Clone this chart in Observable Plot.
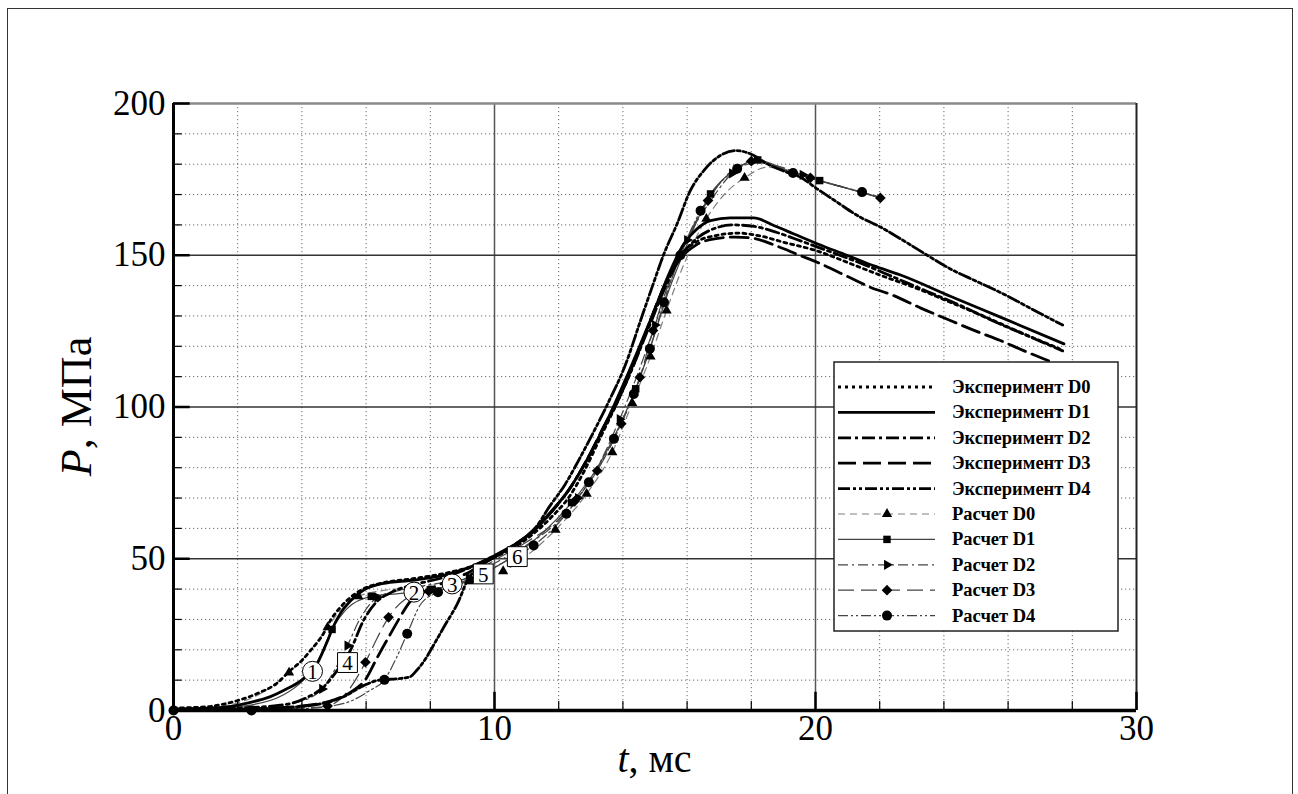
<!DOCTYPE html>
<html><head><meta charset="utf-8">
<script src="https://cdn.jsdelivr.net/npm/d3@7"></script>
<script src="https://cdn.jsdelivr.net/npm/@observablehq/plot@0.6"></script>
<style>
html,body{margin:0;padding:0;background:#fff;}
#wrap{position:relative;width:1298px;height:794px;overflow:hidden;background:#fff;}
#chart{position:absolute;left:0;top:0;}
#frame{position:absolute;left:7px;top:8px;width:1286px;height:810px;border:1.5px solid #333;box-sizing:border-box;pointer-events:none;}
</style></head><body>
<div id="wrap"><div id="chart"></div><div id="frame"></div></div>
<script>
// ---- tick values ----
const xMajor = [0, 10, 20, 30];
const xMinor = [2, 4, 6, 8, 12, 14, 16, 18, 22, 24, 26, 28];
const yMajor = [0, 50, 100, 150, 200];
const yMinor = [10, 20, 30, 40, 60, 70, 80, 90, 110, 120, 130, 140, 160, 170, 180, 190];

// ---- experiment series [t (ms), P (MPa)] ----
const expD0 = [[0,0.8],[1,1.2],[2,3.3],[2.7,6],[3.2,8.8],[3.64,13.2],[4.0,16.5],[4.27,19.8],[4.67,25.3],[4.89,29.7],[5.2,34],[5.6,38],[6.0,40.5],[6.5,42],[7.5,43.5],[8.5,45.3],[9.3,47.5],[10,50.5],[11,56.5],[11.8,64],[12.3,70],[12.8,79],[13.3,90],[13.8,101],[14.3,113],[14.8,127],[15.3,140],[15.8,150],[16.3,154.5],[16.9,156.5],[17.6,157.3],[18.3,156.3],[19,154.3],[20,151.6],[21.1,147.2],[22,143.5],[23.2,138.9],[24.2,134.5],[25.2,130.1],[26.4,124.5],[27.6,119.2]];
const expD1 = [[0,0.5],[1.5,1],[2.4,2.7],[3.0,4.5],[3.43,6.6],[4.05,10.5],[4.48,15.5],[4.8,23],[4.95,27],[5.2,32],[5.5,36],[5.9,39.5],[6.5,41.8],[7.5,43],[8.5,44.8],[9.3,47.5],[10,51],[11,57.5],[11.8,66],[12.3,72.5],[12.8,81],[13.2,89],[13.7,100],[14.1,109.5],[14.5,119.5],[14.95,131],[15.4,143],[15.9,153.8],[16.31,158.7],[16.73,161.4],[17.35,162.3],[18.08,162.3],[18.7,159.8],[19.33,157],[20.05,153.8],[20.98,150],[21.82,146.5],[22.65,143.5],[24.2,136.5],[25.76,129.6],[27.74,120.8]];
const expD2 = [[0,0.3],[2,0.8],[3.5,2],[4.2,4.5],[4.67,7.7],[5.1,13.2],[5.51,19.8],[5.92,29.7],[6.3,35.5],[6.8,39],[7.5,41.5],[8.3,43.5],[9.1,46.5],[9.8,50],[10.6,54.5],[11.3,60],[11.9,67],[12.4,74],[12.9,83],[13.4,93],[13.8,101],[14.3,113],[14.8,126],[15.3,139],[15.8,149.5],[16.3,155.5],[16.9,159],[17.4,160],[18.1,159.5],[18.8,157.5],[19.6,154.5],[20.5,151],[21.5,147],[22.5,142.5],[23.5,138],[24.5,133.5],[25.5,128.5],[26.6,123.5],[27.7,118.5]];
const expD3 = [[0,0.3],[2.5,0.5],[4,1.5],[5,3.5],[5.51,6],[6.0,10.5],[6.35,17.5],[6.8,26],[7.0,29.7],[7.38,36],[7.9,39.5],[8.5,42.5],[9.2,45.5],[9.8,49.5],[10.5,53.5],[11.2,59],[11.9,67],[12.4,74],[12.9,83],[13.4,93.5],[13.8,101.5],[14.3,113.5],[14.8,127],[15.3,140],[15.8,149],[16.3,153.5],[16.9,155.5],[17.5,156],[18.1,155.5],[18.8,153],[19.5,150],[20.05,147.7],[21.0,143],[21.7,139.5],[22.44,136.7],[23.3,132.5],[24.2,128.5],[25.0,125],[25.76,121.9],[26.5,118.5],[27.1,115.9],[27.7,113.5]];
const expD4 = [[0,0.3],[2,0.5],[3.5,1],[4.5,2],[5.3,4.5],[5.92,8.2],[6.4,10],[7.0,10.5],[7.35,11],[7.6,13.5],[7.85,17],[8.1,21.5],[8.45,28],[8.89,36.2],[9.15,42.8],[9.5,47],[10.0,50.5],[10.7,55],[11.3,60.5],[11.7,67],[12.2,74.5],[12.6,82],[13.0,90],[13.5,100.5],[14.1,114.5],[14.55,128.5],[14.91,139.5],[15.28,150.5],[15.69,160.4],[16.1,171.3],[16.52,177.9],[17.04,182.9],[17.51,184.5],[18.08,182.9],[18.5,180.1],[19.1,177.4],[19.53,175.7],[20.05,171.9],[20.67,167.5],[21.4,162.5],[22.02,159.3],[22.65,155.4],[23.48,150],[24.2,145.5],[25.0,141.5],[25.9,137],[26.7,132.5],[27.7,127]];

// ---- calculation series [t, P, marker?] ----
const calcD0 = [[0,0],[1,0.8],[2.0,2.5],[2.7,5.5],[3.2,9],[3.6,12.5,1],[4.2,19],[4.8,27.4,1],[5.2,33],[5.76,37.6,1],[6.5,39.5],[7.5,40.5],[8.5,42],[9.4,43.8],[10.27,45.9,1],[11.0,51],[11.9,59.5,1],[12.87,71.4,1],[13.67,85.1,1],[14.29,101.3,1],[14.86,116.6,1],[15.36,131.8,1],[15.9,147],[16.6,162,1],[17.2,170.5],[17.79,175.5,1],[18.5,179],[19.3,177.3],[20.3,174.2],[21.3,171.2],[22.0,169.3]];
const calcD1 = [[0,0],[1.2,0.8],[2.4,1.8],[3.4,5],[4.0,9.5],[4.5,16.5],[4.94,26.7,1],[5.4,33.5],[6.16,37.6,1],[7.0,38.5],[8.0,39.8,1],[9.23,42.8,1],[10.0,47],[10.8,52.5],[11.6,59.5],[12.4,68.5,1],[13.2,80],[13.9,94],[14.4,106,1],[14.9,121],[15.4,137.5],[15.9,151],[16.73,170.2,1],[17.4,177.5],[18.2,181.4,1],[19.0,178.5],[20.13,174.6,1],[21.0,172],[22.0,169]];
const calcD2 = [[0,0],[2.5,0.5],[3.8,2.5],[4.63,7.1,1],[5.0,13],[5.42,21.4,1],[5.8,30],[6.35,37.3,1],[7,39.5],[8,41.5],[9.2,43.8,1],[10,48.5],[11,54.5],[12,62.5],[12.6,70,1],[13.3,82],[13.9,96,1],[14.5,112],[15.0,127,1],[15.5,142],[16.0,155,1],[16.8,169],[17.4,177,1],[18.1,181],[18.8,179.5],[19.6,176.5,1],[20.5,173.5],[21.5,170.5],[22.0,169]];
const calcD3 = [[0,0],[2.5,0.3],[4.0,0.8],[4.8,1.5,1],[5.4,6],[5.98,15.9,1],[6.35,24],[6.7,30.7,1],[7.2,36.5],[7.95,39.3,1],[9,43],[10,49.5],[11,55.5],[12,63],[12.5,69,1],[13.2,79,1],[13.95,94.5,1],[14.53,109.8,1],[14.94,125.2,1],[15.4,140],[15.9,153],[16.65,168,1],[17.3,177],[18.0,181,1],[18.8,179],[19.84,175.5,1],[21,172],[22.02,168.9,1]];
const calcD4 = [[0,0,1],[1.2,0.2],[2.43,0,1],[3.8,0.5],[4.8,1.3],[5.5,3],[6.1,6.5],[6.57,10.1,1],[6.95,17.5],[7.28,25.3,1],[7.7,35],[8.24,39,1],[8.8,41.5],[9.6,45],[10.4,49.5],[11.22,54.4,1],[12.24,64.8,1],[12.94,75.2,1],[13.72,89.5,1],[14.34,104.3,1],[14.84,119.2,1],[15.28,134.5,1],[15.79,150,1],[16.42,164.7,1],[17.0,173.5],[17.56,178.5,1],[18.2,180.5],[19.3,177.1,1],[20.3,174],[21.45,170.8,1],[22.0,169]];

// ---- numbered annotations ----
const circleNotes = [{t:4.33, p:12.9, n:"1"}, {t:7.49, p:39.0, n:"2"}, {t:8.68, p:41.7, n:"3"}];
const boxNotes = [{t:5.42, p:15.8, n:"4"}, {t:9.65, p:45.0, n:"5"}, {t:10.71, p:50.7, n:"6"}];

// ---- styles ----
const triRight = {draw(ctx, size) {
  const h = Math.sqrt(size / (Math.sqrt(3) * 3));
  ctx.moveTo(2 * h, 0); ctx.lineTo(-h, -Math.sqrt(3) * h); ctx.lineTo(-h, Math.sqrt(3) * h); ctx.closePath();
}};
const expSeries = [
  {label: "Эксперимент D0", data: expD0, dash: "3,4"},
  {label: "Эксперимент D1", data: expD1, dash: null},
  {label: "Эксперимент D2", data: expD2, dash: "13,4,3,4"},
  {label: "Эксперимент D3", data: expD3, dash: "18,7"},
  {label: "Эксперимент D4", data: expD4, dash: "12,3,3,3,3,3"}
];
const calcSeries = [
  {label: "Расчет D0", data: calcD0, dash: "7,5", stroke: "#808080", symbol: "triangle", d3sym: d3.symbolTriangle, r: 3.8},
  {label: "Расчет D1", data: calcD1, dash: null, stroke: "#444", symbol: "square", d3sym: d3.symbolSquare, r: 4.2},
  {label: "Расчет D2", data: calcD2, dash: "10,4,2,4", stroke: "#444", symbol: triRight, d3sym: triRight, r: 3.8},
  {label: "Расчет D3", data: calcD3, dash: "16,7", stroke: "#444", symbol: "diamond2", d3sym: d3.symbolDiamond2, r: 4.8},
  {label: "Расчет D4", data: calcD4, dash: "10,3,2,3,2,3", stroke: "#444", symbol: "circle", d3sym: d3.symbolCircle, r: 5}
];
const rows = arr => arr.map(([t, p, m]) => ({t, p, m: m === 1}));
const serif = "'Liberation Serif', 'Times New Roman', serif";

const marks = [
  Plot.ruleX(xMinor, {stroke: "#6a6a6a", strokeWidth: 1, strokeDasharray: "1.2,2.8"}),
  Plot.ruleY(yMinor, {stroke: "#6a6a6a", strokeWidth: 1, strokeDasharray: "1.2,2.8"}),
  Plot.ruleX([10, 20], {stroke: "#555", strokeWidth: 1.5}),
  Plot.ruleY([50, 100, 150], {stroke: "#333", strokeWidth: 1.3}),
  Plot.ruleY([200], {stroke: "#8a8a8a", strokeWidth: 2.5}),
  Plot.ruleX([30], {stroke: "#222", strokeWidth: 2})
];
for (const s of calcSeries) {
  marks.push(Plot.line(rows(s.data), {x: "t", y: "p", stroke: s.stroke, strokeWidth: 1.2, strokeDasharray: s.dash, curve: "monotone-x"}));
}
for (const s of expSeries) {
  marks.push(Plot.line(rows(s.data), {x: "t", y: "p", stroke: "black", strokeWidth: 2.8, strokeDasharray: s.dash, curve: "monotone-x"}));
}
for (const s of calcSeries) {
  marks.push(Plot.dot(rows(s.data).filter(d => d.m), {x: "t", y: "p", symbol: s.symbol, r: s.r, fill: "black", stroke: "none"}));
}
// axes: lines and inward ticks
marks.push(
  Plot.ruleX([0], {stroke: "black", strokeWidth: 3}),
  Plot.ruleY([0], {stroke: "black", strokeWidth: 3.5}),
  Plot.ruleY(yMajor, {x1: 0, x2: 0.52, stroke: "black", strokeWidth: 2.5}),
  Plot.ruleY(yMinor, {x1: 0, x2: 0.27, stroke: "black", strokeWidth: 1.2}),
  Plot.ruleX(xMajor.slice(1), {y1: 0, y2: 6, stroke: "black", strokeWidth: 2.5}),
  Plot.ruleX(xMinor, {y1: 0, y2: 3, stroke: "black", strokeWidth: 1.2})
);
// numbered notes
marks.push(
  Plot.dot(circleNotes, {x: "t", y: "p", r: 10, fill: "white", stroke: "black", strokeWidth: 1}),
  Plot.dot(boxNotes, {x: "t", y: "p", symbol: "square", r: 11.2, fill: "white", stroke: "black", strokeWidth: 1}),
  Plot.text(circleNotes, {x: "t", y: "p", text: "n", fontSize: 21, fontFamily: serif, fill: "black", dy: 1}),
  Plot.text(boxNotes, {x: "t", y: "p", text: "n", fontSize: 21, fontFamily: serif, fill: "black", dy: 1})
);

const chart = Plot.plot({
  width: 1298, height: 794,
  marginLeft: 173, marginRight: 162, marginTop: 103, marginBottom: 84,
  style: {fontFamily: serif, fontSize: "35px", background: "transparent", color: "black"},
  x: {domain: [0, 30], ticks: xMajor, tickSize: 0, tickPadding: 5, label: null, tickFormat: d => String(d)},
  y: {domain: [0, 200], ticks: yMajor, tickSize: 0, tickPadding: 8, label: null, tickFormat: d => String(d)},
  marks
});
document.getElementById("chart").appendChild(chart);

const svg = d3.select(chart);
const sx = chart.scale("x"), sy = chart.scale("y");

// axis titles
const yt = svg.append("text")
  .attr("transform", `translate(${sx.apply(0) - 82},${sy.apply(100)}) rotate(-90)`)
  .attr("text-anchor", "middle").attr("font-family", serif).attr("font-size", 44).attr("fill", "black");
yt.append("tspan").attr("font-style", "italic").text("P");
yt.append("tspan").text(", МПа");
const xt = svg.append("text")
  .attr("x", sx.apply(15)).attr("y", sy.apply(0) + 62)
  .attr("text-anchor", "middle").attr("font-family", serif).attr("font-size", 40).attr("fill", "black");
xt.append("tspan").attr("font-style", "italic").text("t");
xt.append("tspan").text(", мс");

// legend
const lg = svg.append("g").attr("text-anchor", "start");
lg.append("rect").attr("x", 834).attr("y", 362).attr("width", 284).attr("height", 269)
  .attr("fill", "white").attr("stroke", "#222").attr("stroke-width", 1.5);
const legendItems = [...expSeries.map(s => ({...s, exp: true})), ...calcSeries.map(s => ({...s, exp: false}))];
legendItems.forEach((s, i) => {
  const y = 387 + i * 25.4;
  lg.append("line").attr("x1", 838).attr("x2", 935).attr("y1", y).attr("y2", y)
    .attr("stroke", s.exp ? "black" : s.stroke).attr("stroke-width", s.exp ? 2.8 : 1.2)
    .attr("stroke-dasharray", s.dash);
  if (!s.exp) {
    lg.append("path").attr("transform", `translate(887,${y})`)
      .attr("d", d3.symbol(s.d3sym, Math.PI * s.r * s.r)()).attr("fill", "black");
  }
  lg.append("text").attr("x", 952).attr("y", y + 6).attr("text-anchor", "start").attr("font-family", serif)
    .attr("font-weight", "bold").attr("font-size", 18.5).attr("fill", "black").text(s.label);
});
</script></body></html>
